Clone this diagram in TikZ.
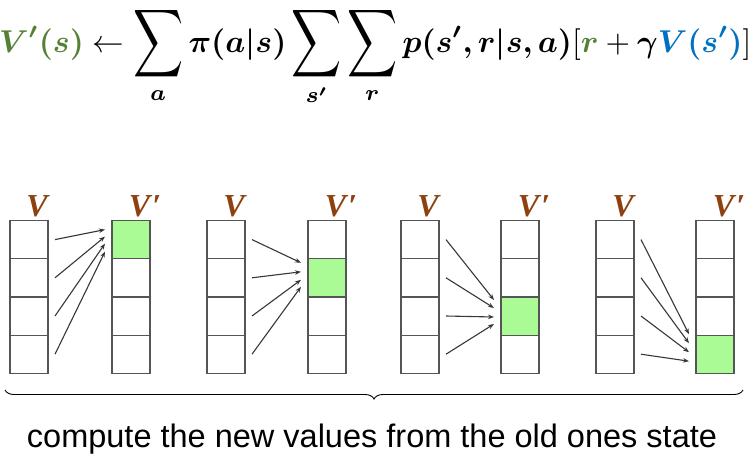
\documentclass[tikz,border=0pt]{standalone}
\usepackage{fontspec}
\usepackage{amsmath}
\usepackage{bm}
\usetikzlibrary{arrows.meta,calc,decorations.pathreplacing}
\newfontfamily\capfont{Liberation Sans}
\newfontfamily\lblfont{Liberation Serif}
\definecolor{vgreen}{RGB}{84,130,53}
\definecolor{vblue}{RGB}{0,112,192}
\definecolor{vbrown}{RGB}{140,65,15}
\definecolor{cellfill}{RGB}{170,250,150}
\definecolor{cellline}{RGB}{85,85,85}
\definecolor{arrowcol}{RGB}{55,55,55}
\newcommand\tallsum{\mathop{\vcenter{\hbox{\scalebox{1.1}[1.5]{$\displaystyle\sum$}}}}\limits}
\begin{document}
\begin{tikzpicture}[x=1pt,y=-1pt,
  cell/.style={draw=cellline,line width=1.2pt,minimum width=38pt,minimum height=38.2pt,inner sep=0pt,outer sep=0pt,fill=white},
  hot/.style={cell,fill=cellfill},
  lbl/.style={text=vbrown,font=\fontsize{32}{34}\selectfont\lblfont\bfseries\itshape,inner sep=0pt},
  arr/.style={draw=arrowcol,line width=1.1pt,-{Stealth[length=6pt,width=4.5pt]}}]
\useasboundingbox (0,0) rectangle (754,455);
% formula
\node[anchor=base west,inner sep=0pt] (formula) at (-1,52) {\resizebox{752pt}{!}{$\displaystyle
 \color{vgreen}\bm{V'(s)}\color{black}\leftarrow\tallsum_{\bm a}\bm{\pi(a|s)}\tallsum_{\bm{s'}}\tallsum_{\bm r}\bm{p(s',r|s,a)}[\color{vgreen}\bm r\color{black}+\bm\gamma\color{vblue}\bm{V(s')}\color{black}]$}};
% columns
\foreach \p/\xl/\xr/\h in {1/10/112/1, 2/207/308/2, 3/401/501/3, 4/596/696/4}{
  \foreach \k in {1,2,3,4}{
    \node[cell] (L\p\k) at ({\xl+19},{220.5+19.1+38.2*(\k-1)}) {};
    \ifnum\k=\h
      \node[hot] (R\p\k) at ({\xr+19},{220.5+19.1+38.2*(\k-1)}) {};
    \else
      \node[cell] (R\p\k) at ({\xr+19},{220.5+19.1+38.2*(\k-1)}) {};
    \fi
  }
  \node[lbl,anchor=base] (lv\p) at ({\xl+19+8},216) {V};
  \node[lbl,anchor=base] (rv\p) at ({\xr+19+14},216) {V\kern2pt′};
}
% arrows
\foreach \p/\dys in {1/{-10,-3,4,12}, 2/{-15,-6,2,9}, 3/{-16,-8,1,8}, 4/{-20,-11,-2,7}}{
  \foreach \dy [count=\k] in \dys {
    \draw[arr] ($(L\p\k.east)+(7,0)$) -- ($(R\p\p.west)+(-7,\dy)$);
  }
}
% brace
\coordinate (bl) at (5,390);
\coordinate (br) at (743,390);
\draw[line width=0.9pt,decorate,decoration={brace,mirror,amplitude=9pt}] (bl) -- (br);
\node[font=\fontsize{32.5}{36}\selectfont\capfont,inner sep=0pt] (cap) at (372,439) {compute the new values from the old ones state};
\end{tikzpicture}
\end{document}
